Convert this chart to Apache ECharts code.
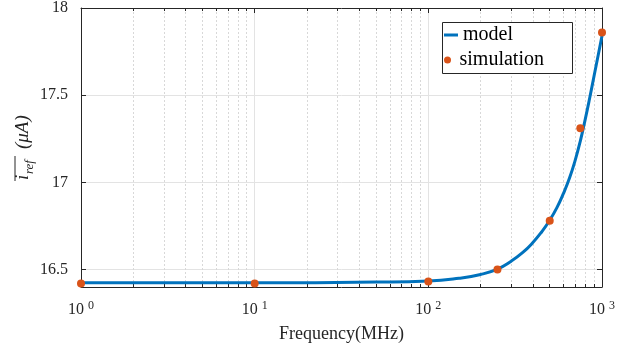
<!DOCTYPE html>
<html>
<head>
<meta charset="utf-8">
<script src="https://cdn.jsdelivr.net/npm/echarts@6/dist/echarts.min.js"></script>
<style>html,body{margin:0;padding:0;background:#fff}#c{width:640px;height:349px}</style>
</head>
<body>
<div id="c"></div>
<script>
const modelFreq = [1, 10, 50, 100, 150, 200, 250, 300, 350, 400, 450, 500, 550, 600, 650, 700, 750, 800, 850, 900, 950, 1000];
const modelVals = [16.424, 16.424, 16.428, 16.434, 16.45, 16.472, 16.503, 16.548, 16.598, 16.655, 16.717, 16.783, 16.855, 16.937, 17.025, 17.125, 17.237, 17.36, 17.485, 17.61, 17.728, 17.84];
const simFreq = [1, 10, 100, 250, 500, 750, 1000];
const simVals = [16.42, 16.42, 16.432, 16.5, 16.78, 17.31, 17.86];
const xMajorTicks = [1, 10, 100, 1000];
const xMinorTicks = [2,3,4,5,6,7,8,9,20,30,40,50,60,70,80,90,200,300,400,500,600,700,800,900];
const yTicks = [16.5, 17, 17.5, 18];
const seriesNames = ['model', 'simulation'];

const AX = '#262626';
const FONT = 'Liberation Serif';
const chart = echarts.init(document.getElementById('c'));

const supMap = {1:0, 10:1, 100:2, 1000:3};
const logAxisBase = {type: 'log', logBase: 10, min: 1, max: 1000};
const legendText = {fontFamily: FONT, fontSize: 20, color: '#000'};
chart.setOption({
  animation: false,
  grid: {left: 81, right: 38, top: 7, bottom: 62},
  legend: [
    {
      orient: 'vertical', left: 444, top: 25, padding: 0, itemWidth: 14, itemHeight: 3,
      textStyle: legendText, z: 6,
      data: [{name: seriesNames[0], icon: 'rect', itemStyle: {color: '#0072BD'}}]
    },
    {
      orient: 'vertical', left: 444, top: 50, padding: 0, itemWidth: 14, itemHeight: 7,
      textStyle: legendText, z: 6,
      data: [{name: seriesNames[1], icon: 'circle'}]
    }
  ],
  xAxis: [
    Object.assign({}, logAxisBase, {
      position: 'bottom',
      name: 'Frequency(MHz)', nameLocation: 'middle', nameGap: 38,
      nameTextStyle: {fontFamily: FONT, fontSize: 18, color: AX},
      axisLine: {show: true, lineStyle: {color: AX, width: 1}},
      axisTick: {show: true, inside: true, length: 5, customValues: xMajorTicks, lineStyle: {color: AX}},
      axisLabel: {
        customValues: xMajorTicks, margin: 13,
        formatter: v => '10{s|' + supMap[Math.round(v)] + '}',
        fontFamily: FONT, fontSize: 16, color: AX,
        rich: {s: {fontFamily: FONT, fontSize: 12, color: AX, verticalAlign: 'top', padding: [0, 0, 8, 4]}}
      },
      splitLine: {show: true, lineStyle: {color: '#e3e3e3', width: 1}}
    }),
    Object.assign({}, logAxisBase, {
      position: 'bottom',
      axisLine: {show: false},
      axisTick: {show: true, inside: true, length: 3, customValues: xMinorTicks, lineStyle: {color: AX}},
      axisLabel: {show: false},
      splitLine: {show: true, lineStyle: {color: '#d8d8d8', width: 1, type: [2, 2]}}
    }),
    Object.assign({}, logAxisBase, {
      position: 'top',
      axisLine: {show: true, lineStyle: {color: AX, width: 1}},
      axisTick: {show: true, inside: true, length: 5, customValues: xMajorTicks, lineStyle: {color: AX}},
      axisLabel: {show: false},
      splitLine: {show: false}
    }),
    Object.assign({}, logAxisBase, {
      position: 'top',
      axisLine: {show: false},
      axisTick: {show: true, inside: true, length: 3, customValues: xMinorTicks, lineStyle: {color: AX}},
      axisLabel: {show: false},
      splitLine: {show: false}
    })
  ],
  yAxis: [
    {
      type: 'value', min: 16.4, max: 18, position: 'left',
      axisLine: {show: true, lineStyle: {color: AX, width: 1}},
      axisTick: {show: true, inside: true, length: 5, customValues: yTicks, lineStyle: {color: AX}},
      axisLabel: {customValues: yTicks, fontFamily: FONT, fontSize: 16, color: AX, margin: 13, formatter: v => String(v)},
      splitLine: {show: true, lineStyle: {color: '#e3e3e3', width: 1}}
    },
    {
      type: 'value', min: 16.4, max: 18, position: 'right',
      axisLine: {show: true, lineStyle: {color: AX, width: 1}},
      axisTick: {show: true, inside: true, length: 5, customValues: yTicks, lineStyle: {color: AX}},
      axisLabel: {show: false},
      splitLine: {show: false}
    }
  ],
  series: [
    {
      name: seriesNames[0], type: 'line', xAxisIndex: 0, yAxisIndex: 0,
      data: modelFreq.map((f, i) => [f, modelVals[i]]),
      showSymbol: false, smooth: 0.5,
      lineStyle: {color: '#0072BD', width: 3}, itemStyle: {color: '#0072BD'}, z: 3
    },
    {
      name: seriesNames[1], type: 'scatter', xAxisIndex: 0, yAxisIndex: 0,
      data: simFreq.map((f, i) => [f, simVals[i]]),
      symbolSize: 8, itemStyle: {color: '#D95319', opacity: 1}, z: 4
    }
  ],
  graphic: [
    {
      type: 'rect', z: 5, shape: {x: 442.5, y: 22.5, width: 130, height: 51},
      style: {fill: '#fff', stroke: AX, lineWidth: 1}
    },
    {
      type: 'group', x: 32, y: 145, rotation: Math.PI / 2,
      children: [
        {type: 'text', x: -35, y: 0, style: {text: 'i', fontFamily: FONT, fontStyle: 'italic', fontSize: 19, fill: AX, textVerticalAlign: 'bottom'}},
        {type: 'text', x: -29, y: 4, style: {text: 'ref', fontFamily: FONT, fontStyle: 'italic', fontSize: 13, fill: AX, textVerticalAlign: 'bottom'}},
        {type: 'line', shape: {x1: -36, y1: -17, x2: -11, y2: -17}, style: {stroke: AX, lineWidth: 1}},
        {type: 'text', x: -4, y: 0, style: {text: '(μA)', fontFamily: FONT, fontStyle: 'italic', fontSize: 19, fill: AX, textVerticalAlign: 'bottom'}}
      ]
    }
  ]
});
</script>
</body>
</html>
